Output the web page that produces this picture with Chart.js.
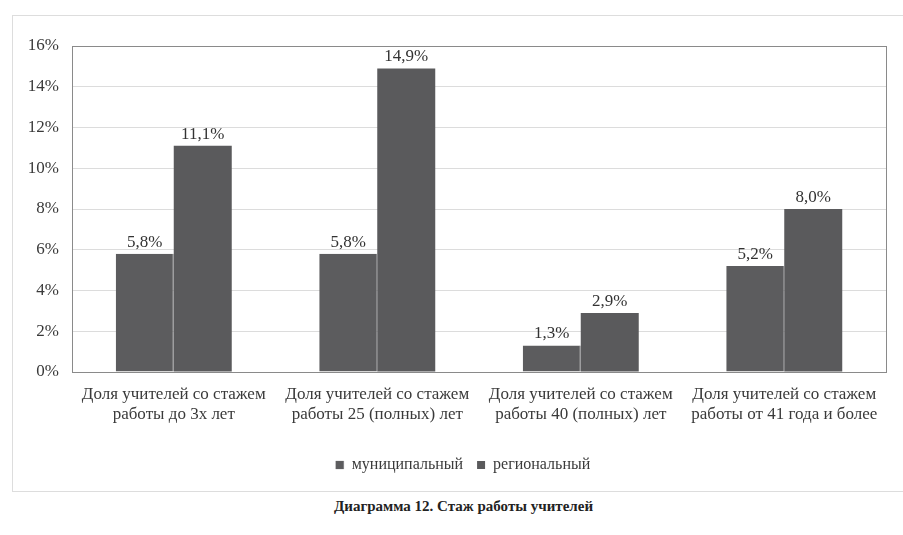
<!DOCTYPE html>
<html>
<head>
<meta charset="utf-8">
<script src="https://cdn.jsdelivr.net/npm/chart.js@4"></script>
<style>
    body { margin: 0; background: #fff; font-family: "Liberation Serif", serif; }
    #frame { position: absolute; left: 12px; top: 15px; width: 900px; height: 475px;
             border-left: 1px solid #ddd; border-top: 1px solid #ddd; border-bottom: 1px solid #ddd; }
    #wrap { position: absolute; left: 0; top: 0; width: 903px; height: 490px; }
    #caption { position: absolute; left: 0; top: 498px; width: 927px; text-align: center;
               font-size: 15px; font-weight: bold; color: #222; }
</style>
</head>
<body>
<div id="frame"></div>
<div id="wrap"><canvas id="chart-stazh"></canvas></div>
<div id="caption">Диаграмма 12. Стаж работы учителей</div>
<script>
// Доли учителей по стажу
const categorias = [
    ['Доля учителей со стажем', 'работы до 3х лет'],
    ['Доля учителей со стажем', 'работы 25 (полных) лет'],
    ['Доля учителей со стажем', 'работы 40 (полных) лет'],
    ['Доля учителей со стажем', 'работы от 41 года и более']
];
const municipal = [5.8, 5.8, 1.3, 5.2];
const regional = [11.1, 14.9, 2.9, 8.0];
const series = ['муниципальный', 'региональный'];
const yTicks = [0, 2, 4, 6, 8, 10, 12, 14, 16];

function formatar(valor) {
    return valor.toFixed(1).replace('.', ',') + '%';
}

// rótulos acima das barras + moldura da área
const rotulos = {
    id: 'rotulos',
    afterLayout(chart) {
        // legenda um pouco deslocada para a direita, como no original
        chart.legend.left += 14;
        chart.legend.right += 14;
    },
    afterDatasetsDraw(chart) {
        let ctx = chart.ctx;
        ctx.save();
        ctx.font = '17px "Liberation Serif"';
        ctx.fillStyle = '#333';
        ctx.textAlign = 'center';
        ctx.textBaseline = 'bottom';
        chart.data.datasets.forEach((ds, i) => {
            chart.getDatasetMeta(i).data.forEach((bar, j) => {
                ctx.fillText(formatar(ds.data[j]), bar.x, bar.y - 3);
            });
        });
        let a = chart.chartArea;
        ctx.strokeStyle = '#8a8a8a';
        ctx.lineWidth = 1;
        ctx.strokeRect(Math.round(a.left) + 0.5, Math.round(a.top) + 0.5, Math.round(a.right - a.left), Math.round(a.bottom - a.top));
        ctx.restore();
    }
};

Chart.defaults.font.family = '"Liberation Serif", serif';
Chart.defaults.color = '#333';

var ctx = document.getElementById('chart-stazh').getContext('2d');
new Chart(ctx, {
    type: 'bar',
    data: {
        labels: categorias,
        datasets: [{
            label: series[0],
            data: municipal,
            backgroundColor: '#5c5c5e',
            borderColor: '#727274',
            borderWidth: {right: 1},
            categoryPercentage: 0.57,
            barPercentage: 1
        }, {
            label: series[1],
            data: regional,
            backgroundColor: '#5a5a5c',
            categoryPercentage: 0.57,
            barPercentage: 1
        }]
    },
    options: {
        responsive: true,
        maintainAspectRatio: false,
        animation: false,
        layout: {padding: {left: 12, right: 17, top: 46, bottom: 7}},
        scales: {
            x: {
                grid: {display: false},
                border: {display: false},
                ticks: {font: {size: 17}, color: '#3a3a3a', padding: 4, maxRotation: 0},
                afterFit: function (scale) { scale.height = 71; }
            },
            y: {
                min: 0,
                max: 16,
                afterBuildTicks: function (scale) {
                    scale.ticks = yTicks.map(v => ({value: v}));
                },
                grid: {color: '#dcdcdc', drawTicks: false},
                border: {display: false},
                ticks: {
                    font: {size: 17},
                    color: '#3a3a3a',
                    padding: 13,
                    callback: function (value) { return value + '%'; }
                },
                afterFit: function (scale) { scale.width = 60; }
            }
        },
        plugins: {
            legend: {
                position: 'bottom',
                labels: {
                    font: {size: 16},
                    color: '#3a3a3a',
                    boxWidth: 8,
                    boxHeight: 8,
                    padding: 14
                }
            },
            tooltip: {enabled: false}
        }
    },
    plugins: [rotulos]
});
</script>
</body>
</html>
